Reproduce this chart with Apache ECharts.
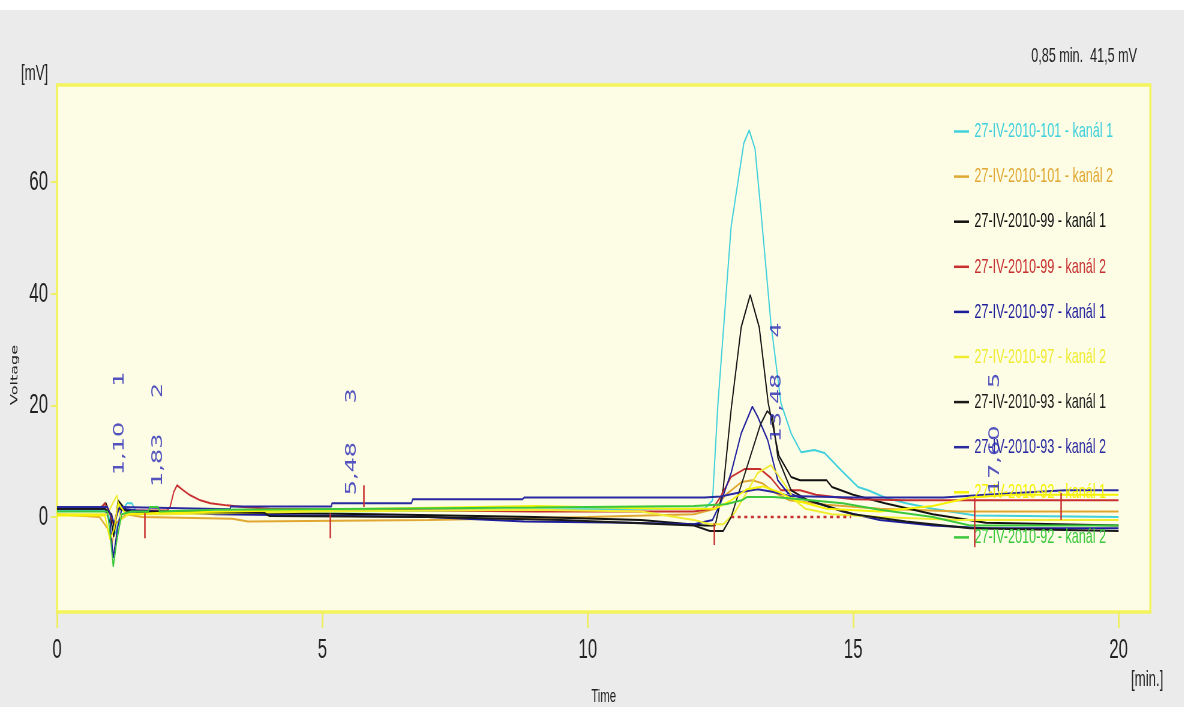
<!DOCTYPE html>
<html>
<head>
<meta charset="utf-8">
<script src="https://cdn.jsdelivr.net/npm/echarts@6/dist/echarts.min.js"></script>
<style>
  html, body { margin: 0; padding: 0; background: #ffffff; width: 1184px; height: 707px; overflow: hidden; }
  /* The plot is laid out wide and condensed horizontally, giving the narrow lettering of the instrument software */
  #chart { width: 1974px; height: 707px; transform: scaleX(0.6); transform-origin: 0 0; }
</style>
</head>
<body>
<div id="chart"></div>
<script>
// Chromatogram traces: [time (min), signal (mV)]
const ch101k1 = [[0,1.2],[0.85,1.2],[0.95,0.8],[1.05,-2],[1.1,-3],[1.2,0.8],[1.32,2.5],[1.41,2.5],[1.5,0.8],[3,0.8],[5.2,1],[8.8,1.3],[11,1.5],[12.2,1.5],[12.35,3],[12.45,20],[12.7,52],[12.94,67],[13.04,69.3],[13.15,66],[13.26,55],[13.45,34.7],[13.64,20.4],[13.83,15],[14.02,11.6],[14.27,12],[14.46,11.5],[14.77,8.4],[15.09,5.4],[15.28,4.8],[15.6,3.5],[16,2.5],[16.5,1.5],[17.3,0.3],[20,0]];
const ch101k2 = [[0,0.5],[0.8,0],[0.95,-2],[1.03,-5],[1.12,-1],[1.3,0.5],[1.6,0],[3.3,-0.3],[3.6,-0.8],[7,-0.5],[10,0],[12,0.5],[12.4,1.5],[12.6,4],[12.9,6.3],[13.1,6.6],[13.3,6],[13.5,4.5],[13.8,3],[14.5,2.2],[15.5,1.5],[17,1],[20,1]];
const ch99k1 = [[0,1.5],[0.8,1.5],[0.92,2.5],[1.0,0.5],[1.07,-3.5],[1.15,3],[1.3,1.2],[1.6,1],[3.5,0.8],[6,0.5],[9,0],[11,-0.5],[12.2,-1.5],[12.4,-1.5],[12.55,5],[12.7,19.2],[12.89,34],[13.06,39.8],[13.23,34],[13.4,20.4],[13.6,11],[13.83,7.2],[14.0,6.6],[14.5,6.6],[14.6,5.4],[15,4],[15.6,2.5],[16.5,0.5],[17.5,-1],[20,-1.5]];
const ch99k2 = [[0,1.5],[0.82,1.5],[0.9,2.5],[1.0,0.5],[1.07,-1.5],[1.15,2],[1.3,1.2],[2.08,1.2],[2.13,1.8],[2.2,4.5],[2.26,5.7],[2.38,4.8],[2.51,3.9],[2.7,3],[2.89,2.5],[3.2,2.1],[3.5,1.8],[4,1.5],[6,1.3],[9,1],[12,1],[12.35,1.5],[12.5,3.6],[12.7,7.2],[12.95,8.6],[13.25,8.6],[13.45,7],[13.64,4.8],[14,4.8],[14.3,4],[15,3.2],[16,3],[20,3]];
const ch97k1 = [[0,1.5],[0.9,1.5],[1.0,-1],[1.06,-7.3],[1.14,-2],[1.22,1.5],[1.5,1.2],[3,0.5],[7,0],[8.8,-0.8],[10.8,-1],[12,-1.3],[12.35,-0.5],[12.5,2.5],[12.7,7.9],[12.89,15],[13.1,19.8],[13.2,18],[13.39,13.8],[13.58,6.6],[13.77,4.3],[14,3.5],[14.8,1],[15.5,-0.5],[16.5,-1.5],[17.5,-2],[20,-2]];
const ch97k2 = [[0,0.5],[0.95,0.5],[1.05,2.5],[1.13,3.9],[1.2,-0.5],[1.35,0.5],[2,0.5],[5,1],[9,1.3],[11,1],[12,-0.5],[12.3,-1.3],[12.55,-1.3],[12.76,0.7],[13.0,4.5],[13.2,7.9],[13.45,9.3],[13.7,6],[13.9,3],[14.1,1.5],[14.6,0.5],[15.5,0],[17,-0.5],[20,-0.5]];
const ch93k1 = [[0,1.5],[0.9,1.5],[1.03,0.5],[1.08,-2],[1.15,1.5],[1.4,1],[3.9,0.8],[4,0.2],[7,0],[9.5,-0.5],[12,-1.5],[12.3,-2.5],[12.55,-2.5],[12.7,0],[12.9,6],[13.1,12],[13.25,16.5],[13.38,19],[13.48,18],[13.58,10.7],[13.83,4.8],[14.15,3],[14.5,2],[15,0.5],[16,-0.8],[17.2,-2],[20,-2.5]];
const ch93k2 = [[0,1.8],[0.95,1.8],[1.08,-1],[1.18,1.8],[3.26,1.4],[3.27,1.9],[5.17,1.9],[5.18,2.5],[6.68,2.5],[6.7,3.2],[8.77,3.2],[8.8,3.5],[12.2,3.5],[12.5,3.7],[12.9,4.5],[13.2,5],[13.5,4.5],[13.8,3.8],[15,3.5],[16.7,3.5],[17.5,4],[19,4.8],[20,4.8]];
const ch92k1 = [[0,0.3],[0.9,0.3],[1.0,-4],[1.08,-2],[1.15,2.5],[1.3,0.5],[2,0.8],[6,1.5],[9,2],[11.5,1.5],[12.4,1.5],[12.7,3],[13.0,5],[13.3,5.5],[13.6,4.5],[13.9,3],[14.5,1.5],[15.5,1],[16.5,2],[17.2,3.5],[18,4],[20,4]];
const ch92k2 = [[0,1],[0.95,1],[1.0,-3],[1.06,-8.9],[1.13,-4],[1.22,0.5],[1.4,1],[1.72,1],[1.75,1.8],[1.9,1.8],[1.93,1],[3,1.3],[6,1.5],[9,1.7],[12,2],[12.6,2.3],[12.9,3],[13.0,3.6],[13.5,3.6],[14,3.2],[14.8,2.5],[15.5,1.3],[16.5,0],[17.2,-1.5],[20,-1.5]];

const traceNames = [
  '27-IV-2010-101 - kanál 1', '27-IV-2010-101 - kanál 2',
  '27-IV-2010-99 - kanál 1',  '27-IV-2010-99 - kanál 2',
  '27-IV-2010-97 - kanál 1',  '27-IV-2010-97 - kanál 2',
  '27-IV-2010-93 - kanál 1',  '27-IV-2010-93 - kanál 2',
  '27-IV-2010-92 - kanál 1',  '27-IV-2010-92 - kanál 2'
];
const traceData = [ch101k1, ch101k2, ch99k1, ch99k2, ch97k1, ch97k2, ch93k1, ch93k2, ch92k1, ch92k2];

// Detected peaks: retention time and peak number
const peakTimes = [1.10, 1.83, 5.48, 13.48, 17.60];
const peakIds = ['1', '2', '3', '4', '5'];

// Peak start/end marks: time and the signal range (mV) each one spans
const markerTimes = [1.65, 5.15, 5.78, 12.38, 17.29, 18.91];
const markerFrom = [-3.8, -3.8, 1.8, -5.0, -5.4, -0.5];
const markerTo = [0.7, 0.7, 5.7, -1.1, 3.4, 4.3];

// Integration baseline under peak 4
const baseline4 = [[12.7, 0], [14.96, 0]];

const xTicks = [0, 5, 10, 15, 20];
const yTicks = [0, 20, 40, 60];

// ---- presentation ----
const traceColors = ['#3fd0dc', '#e0a832', '#111111', '#c83030', '#1e1e9c', '#f0ec30', '#1a1a1a', '#2a2aa0', '#f6f200', '#3cc83c'];
const SX = 0.6;                 // horizontal condensing applied by the CSS transform
const X = v => v / SX;          // screen x -> layout x
const FONT = "'Liberation Sans', Arial, sans-serif";
const LABEL_FONT = "'DejaVu Sans', Verdana, sans-serif";

// Vertical anchors (mV) for the rotated peak annotations
const peakLabelBottom = [7.5, 5.4, 3.9, 13.4, 4.1];
const peakIdLevel = [24.7, 22.7, 21.7, 33.5, 24.5];

const fmtTime = t => t.toFixed(2).replace('.', ',');

const series = traceData.map((d, i) => ({
  name: traceNames[i],
  type: 'line',
  data: d,
  showSymbol: false,
  symbol: 'none',
  lineStyle: { color: traceColors[i], width: 2 },
  itemStyle: { color: traceColors[i] },
  z: 3,
  silent: true
}));

// Red dotted baseline plus the peak start/end marks
series.push({
  name: 'baseline',
  type: 'line',
  data: baseline4,
  symbol: 'none',
  silent: true,
  lineStyle: { color: '#c83030', width: 2.5, type: [5, 6] },
  z: 4,
  markLine: {
    silent: true,
    symbol: ['none', 'none'],
    label: { show: false },
    lineStyle: { color: '#c83030', width: 2.5, type: 'solid' },
    data: markerTimes.map((t, i) => [
      { coord: [t, markerFrom[i]] },
      { coord: [t, markerTo[i]] }
    ])
  }
});

// Rotated text sitting just to the right of the peak time
const rotatedLabel = (align) => ({
  show: true,
  position: 'inside',
  rotate: 90,
  align: align,
  verticalAlign: 'top',
  lineHeight: 14,
  color: '#2828b4',
  fontFamily: LABEL_FONT,
  fontSize: 24,
  formatter: p => p.data.text
});

// Rotated retention-time labels
series.push({
  name: 'peakTime',
  type: 'scatter',
  symbolSize: 0,
  silent: true,
  z: 5,
  data: peakTimes.map((t, i) => ({ value: [t, peakLabelBottom[i]], text: fmtTime(t) })),
  label: rotatedLabel('left')
});

// Rotated peak numbers
series.push({
  name: 'peakId',
  type: 'scatter',
  symbolSize: 0,
  silent: true,
  z: 5,
  data: peakTimes.map((t, i) => ({ value: [t, peakIdLevel[i]], text: peakIds[i] })),
  label: rotatedLabel('center')
});

const chart = echarts.init(document.getElementById('chart'), null, { renderer: 'canvas' });
chart.setOption({
  animation: false,
  backgroundColor: '#ebebeb',
  grid: {
    left: X(57), right: X(34), top: 85, bottom: 95,
    show: true,
    backgroundColor: '#fdfde6',
    borderColor: '#f4f45c',
    borderWidth: 3.5,
    containLabel: false,
    outerBoundsMode: 'none'
  },
  legend: {
    orient: 'vertical',
    left: X(954),
    top: 121,
    padding: 0,
    itemGap: 24.1,
    itemWidth: X(15),
    itemHeight: 2.5,
    icon: 'rect',
    selectedMode: false,
    data: traceNames.map((n, i) => ({
      name: n,
      itemStyle: { color: traceColors[i] },
      textStyle: { color: traceColors[i] }
    })),
    textStyle: { fontFamily: FONT, fontSize: 21, lineHeight: 20, padding: [0, 0, 0, 4] }
  },
  xAxis: {
    type: 'value',
    min: 0,
    max: 20.6,
    name: 'Time',
    nameLocation: 'middle',
    nameGap: 75,
    nameTextStyle: { fontFamily: FONT, fontSize: 19, color: '#222' },
    axisLine: { show: false, onZero: false },
    splitLine: { show: false },
    axisTick: { show: true, length: 16, customValues: xTicks, lineStyle: { color: '#eeee60', width: 3 } },
    axisLabel: { customValues: xTicks, margin: 24, fontFamily: FONT, fontSize: 28, color: '#222' }
  },
  yAxis: {
    type: 'value',
    min: -17.0,
    max: 77.4,
    axisLine: { show: false, onZero: false },
    splitLine: { show: false },
    axisTick: { show: true, length: X(6), customValues: yTicks, lineStyle: { color: '#eeee60', width: 2 } },
    axisLabel: { customValues: yTicks, margin: X(9), fontFamily: FONT, fontSize: 28, color: '#222' }
  },
  graphic: [
    { type: 'rect', left: 0, top: 0, shape: { width: X(1184), height: 10 }, style: { fill: '#ffffff' }, z: -10, silent: true },
    { type: 'text', left: X(21), top: 63, style: { text: '[mV]', fill: '#222', font: "22px " + FONT }, silent: true },
    { type: 'text', x: X(15), y: 375, rotation: Math.PI / 2,
      style: { text: 'Voltage', fill: '#222', font: "16px " + LABEL_FONT, align: 'center', verticalAlign: 'middle' }, silent: true },
    { type: 'text', left: X(1131), top: 669, style: { text: '[min.]', fill: '#222', font: "22px " + FONT }, silent: true },
    { type: 'text', x: X(1137), y: 56,
      style: { text: '0,85 min.  41,5 mV', fill: '#222', font: "21px " + FONT, align: 'right', verticalAlign: 'middle' }, silent: true }
  ],
  series: series
});
</script>
</body>
</html>
